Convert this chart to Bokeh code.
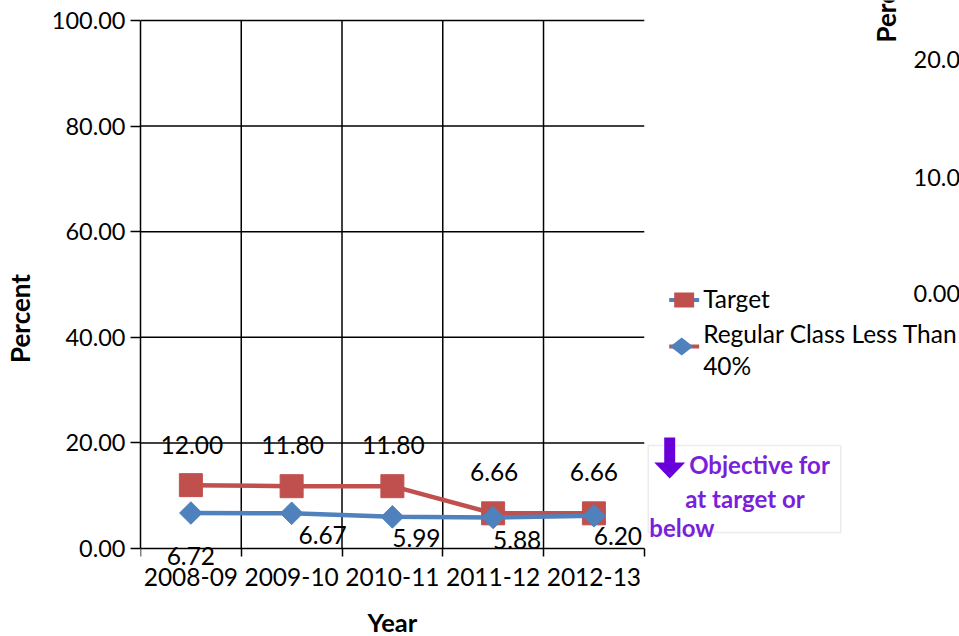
import numpy as np
from bokeh.plotting import figure
from bokeh.models import (FixedTicker, Range1d, ColumnDataSource, LabelSet, Label,
                          PolyAnnotation, PrintfTickFormatter)
from bokeh.core.properties import value
from bokeh.embed import file_html
from bokeh.resources import INLINE

# ---------------- data ----------------
years = ["2008-09", "2009-10", "2010-11", "2011-12", "2012-13"]
target = [12.00, 11.80, 11.80, 6.66, 6.66]
regular = [6.72, 6.67, 5.99, 5.88, 6.20]
y_ticks = [0, 20, 40, 60, 80, 100]
legend_labels = ["Target", "Regular Class Less Than", "40%"]
note_lines = ["Objective for", "at target or", "below"]
right_ticks = ["20.00", "10.00", "0.00"]

# ---------------- style ----------------
RED = "#C0504D"
BLUE = "#4F81BD"
PURPLE = "#7A1FDB"
ARROW = "#6A00D9"
INK = "#000000"
FONT = "Lato"
FS_NUM = "24.5px"
FS_Y = "23.5px"
FS_TITLE = "26px"
FS_LEG = "24.5px"
FS_NOTE = "24px"

# plot area placement in page pixels
FL, FR, FT, FB = 138, 643, 20, 548
W, H = 959, 636
n = len(years)


def X(px):
    return (px - FL) / (FR - FL) * n


def Y(py):
    return (FB - py) / (FB - FT) * 100


p = figure(width=W, height=H, output_backend="svg", toolbar_location=None,
           x_range=Range1d(0, X(W)), y_range=Range1d(Y(H), Y(0)),
           min_border_left=FL, min_border_right=0,
           min_border_top=0, min_border_bottom=0)
p.outline_line_color = None
p.background_fill_color = "white"
p.border_fill_color = "white"
p.xgrid.visible = False
p.ygrid.visible = False

# x axis (categories at centres, tick marks at boundaries)
xc = [i + 0.5 for i in range(n)]
xa = p.xaxis[0]
xa.fixed_location = 0
xa.bounds = (0, n)
xa.ticker = FixedTicker(ticks=xc, minor_ticks=list(range(n + 1)))
xa.major_label_overrides = {c: y for c, y in zip(xc, years)}
xa.major_tick_out = 0
xa.major_tick_in = 0
xa.minor_tick_out = 8
xa.minor_tick_in = 0
xa.minor_tick_line_color = INK
xa.minor_tick_line_width = 1.5
xa.axis_line_color = INK
xa.axis_line_width = 1.5
xa.major_label_standoff = 11
xa.major_label_text_font = FONT
xa.major_label_text_font_size = FS_NUM
xa.major_label_text_color = INK

ya = p.yaxis[0]
ya.bounds = (y_ticks[0], y_ticks[-1])
ya.ticker = FixedTicker(ticks=y_ticks)
ya.formatter = PrintfTickFormatter(format="%.2f")
ya.major_tick_out = 10
ya.major_tick_in = 0
ya.minor_tick_line_color = None
ya.major_tick_line_color = INK
ya.major_tick_line_width = 1.5
ya.axis_line_color = INK
ya.axis_line_width = 1.5
ya.major_label_standoff = 5
ya.major_label_text_font = FONT
ya.major_label_text_font_size = FS_Y
ya.major_label_text_color = INK
ya.axis_label = "Percent"
ya.axis_label_standoff = 13
ya.axis_label_text_font = FONT
ya.axis_label_text_font_size = FS_TITLE
ya.axis_label_text_font_style = "bold"
ya.axis_label_text_color = INK

# grid lines (limited to the chart's own plot area)
gy = y_ticks[1:]
p.segment(x0=[0] * len(gy), x1=[n] * len(gy), y0=gy, y1=gy, line_color=INK, line_width=1.5)
gx = list(range(1, n))
p.segment(x0=gx, x1=gx, y0=[y_ticks[0]] * len(gx), y1=[y_ticks[-1]] * len(gx),
          line_color=INK, line_width=1.5)

# series
p.line(xc, target, line_color=RED, line_width=4.5)
p.scatter(xc, target, marker="square", size=23, fill_color=RED, line_color=RED)
p.line(xc, regular, line_color=BLUE, line_width=4.5)
p.scatter(xc, regular, marker="square", angle=np.pi / 4, size=16,
          fill_color=BLUE, line_color=BLUE)

# data labels (offsets in screen px)
t_xo = [1, 1, 1, 1, 0]
t_yo = [40, 41, 41, 41, 41]
r_xo = [0, 31, 24, 24, 24]
r_yo = [-43, -22, -21, -23, -20]
src_t = ColumnDataSource(dict(x=xc, y=target, text=[f"{v:.2f}" for v in target], xo=t_xo, yo=t_yo))
src_r = ColumnDataSource(dict(x=xc, y=regular, text=[f"{v:.2f}" for v in regular], xo=r_xo, yo=r_yo))
for src in (src_t, src_r):
    p.add_layout(LabelSet(x="x", y="y", text="text", source=src, x_offset="xo", y_offset="yo",
                          text_align="center", text_baseline="middle",
                          text_font=value(FONT), text_font_size=value(FS_NUM), text_color=INK))


def poly(pts, fill, line=None, lw=0, alpha=1.0):
    xs = [X(a) for a, b in pts]
    ys = [Y(b) for a, b in pts]
    p.add_layout(PolyAnnotation(xs=xs, ys=ys, fill_color=fill, fill_alpha=alpha,
                                line_color=line, line_width=lw))


def label(px, py, text, align="left", bold=False, color=INK, size=FS_LEG, angle=0):
    p.add_layout(Label(x=X(px), y=Y(py), text=text, text_align=align, text_baseline="middle",
                       text_font=FONT, text_font_size=size,
                       text_font_style="bold" if bold else "normal",
                       text_color=color, angle=angle))


# x axis title
label((FL + FR) / 2, 621.5, "Year", align="center", bold=True, size="25.5px")

# legend (drawn by hand: the source shows swapped line/marker colours)
poly([(668, 297.5), (698, 297.5), (698, 301.5), (668, 301.5)], BLUE)
poly([(673, 292), (693, 292), (693, 307), (673, 307)], RED)
poly([(668, 344), (698, 344), (698, 348), (668, 348)], RED)
poly([(669, 346), (680.5, 337), (692, 346), (680.5, 355)], BLUE)
label(702, 298, legend_labels[0])
label(702, 333, legend_labels[1])
label(702, 365, legend_labels[2])

# objective note box
poly([(647, 445), (840, 445), (840, 532), (647, 532)], None, line="#BFBFBF", lw=1.5, alpha=0)
poly([(663, 437), (674, 437), (674, 462), (684, 462), (668.5, 478), (653, 462), (663, 462)], ARROW)
label(688, 464, note_lines[0], bold=True, color=PURPLE, size=FS_NOTE)
label(744, 498, note_lines[1], align="center", bold=True, color=PURPLE, size=FS_NOTE)
label(648, 527, note_lines[2], bold=True, color=PURPLE, size=FS_NOTE)

# neighbouring chart, cut off at the right edge
label(885, 42, "Percent", bold=True, size=FS_TITLE, angle=np.pi / 2)
label(913, 59, right_ticks[0], size=FS_Y)
label(913, 177, right_ticks[1], size=FS_Y)
label(913, 293, right_ticks[2], size=FS_Y)

open("out.html", "w").write(file_html(p, INLINE))
